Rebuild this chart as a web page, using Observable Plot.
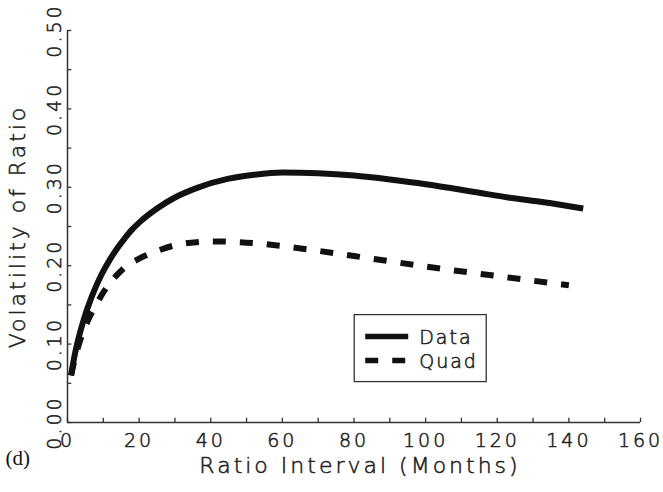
<!DOCTYPE html>
<html>
<head>
<meta charset="utf-8">
<script src="https://cdn.jsdelivr.net/npm/d3@7"></script>
<script src="https://cdn.jsdelivr.net/npm/@observablehq/plot@0.6"></script>
<style>
  html, body { margin: 0; padding: 0; background: #fff; }
  #chart svg { display: block; }
</style>
</head>
<body>
<div id="chart"></div>
<script>
// Volatility of the ratio against the ratio interval (months)
const dataMonths = [1, 2, 3, 4, 5, 6, 7, 8, 9, 10, 12, 14, 16, 18, 20, 25, 30, 36, 45, 52, 60, 70, 80, 90, 100, 107, 115, 123, 133, 144];
const dataVol    = [0.060, 0.086, 0.106, 0.123, 0.138, 0.151, 0.163, 0.174, 0.184, 0.193, 0.209, 0.223, 0.235, 0.246, 0.255, 0.273, 0.287, 0.299, 0.311, 0.316, 0.319, 0.318, 0.315, 0.310, 0.304, 0.299, 0.293, 0.287, 0.281, 0.273];

const quadMonths = [1, 2, 3, 4, 6, 8, 10, 13, 16, 20, 24, 30, 36, 42, 48, 54, 60, 70, 85, 100, 108, 123, 140];
const quadVol    = [0.060, 0.080, 0.097, 0.111, 0.133, 0.150, 0.166, 0.184, 0.198, 0.209, 0.217, 0.226, 0.230, 0.231, 0.230, 0.228, 0.225, 0.219, 0.209, 0.199, 0.194, 0.185, 0.175];

const xTickValues = [0, 10, 20, 30, 40, 50, 60, 70, 80, 90, 100, 110, 120, 130, 140, 150, 160];
const xTickLabels = [0, 20, 40, 60, 80, 100, 120, 140, 160];
const yTickValues = [0, 0.05, 0.10, 0.15, 0.20, 0.25, 0.30, 0.35, 0.40, 0.45, 0.50];
const yTickLabels = [0, 0.10, 0.20, 0.30, 0.40, 0.50];

const seriesNames = ["Data", "Quad"];
const xTitle = "Ratio Interval (Months)";
const yTitle = "Volatility of Ratio";
const panelTag = "(d)";

const dataRows = dataMonths.map((m, i) => ({month: m, vol: dataVol[i]}));
const quadRows = quadMonths.map((m, i) => ({month: m, vol: quadVol[i]}));

const font = "'DejaVu Sans', sans-serif";
const ink = "#111";
const axisInk = "#333";
const textInk = "#222";

// Legend box drawn against the chart's scales
function legend(index, scales) {
  const g = d3.create("svg:g");
  const x0 = scales.x(80.2), y0 = scales.y(0.137);
  const w = 132, h = 67;
  g.append("rect")
    .attr("x", x0).attr("y", y0).attr("width", w).attr("height", h)
    .attr("fill", "#fff").attr("stroke", axisInk).attr("stroke-width", 1.3);
  const styles = [null, "13,14"];
  seriesNames.forEach((name, i) => {
    const cy = y0 + 22 + i * 24;
    g.append("line")
      .attr("x1", x0 + 11).attr("x2", x0 + 54)
      .attr("y1", cy).attr("y2", cy)
      .attr("stroke", ink).attr("stroke-width", 5.5)
      .attr("stroke-dasharray", styles[i]);
    g.append("text")
      .attr("x", x0 + 65).attr("y", cy + 7)
      .attr("text-anchor", "start")
      .attr("font-family", font).attr("font-size", 19)
      .attr("font-weight", 300)
      .attr("letter-spacing", 2)
      .attr("fill", textInk)
      .attr("stroke", textInk).attr("stroke-width", 0.55)
      .text(name);
  });
  return g.node();
}

const labelStyle = {fontWeight: 300, fill: textInk, stroke: textInk, strokeWidth: 0.55};

const chart = Plot.plot({
  width: 663,
  height: 492,
  marginLeft: 67,
  marginRight: 23,
  marginTop: 30,
  marginBottom: 70,
  x: {domain: [0, 160], axis: null},
  y: {domain: [0, 0.5], axis: null},
  style: {fontFamily: font, background: "#fff"},
  marks: [
    // axis lines
    Plot.ruleY([0], {stroke: axisInk, strokeWidth: 1.5}),
    Plot.ruleX([0], {stroke: axisInk, strokeWidth: 1.5}),
    // inward tick marks
    Plot.ruleX(xTickValues, {x: d => d, y1: 0, y2: 0.0055, stroke: axisInk, strokeWidth: 1.3}),
    Plot.ruleY(yTickValues, {y: d => d, x1: 0, x2: 1.2, stroke: axisInk, strokeWidth: 1.3}),
    // tick labels
    Plot.text(xTickLabels, {
      x: d => d, y: 0, dy: 18, text: d => String(d),
      fontSize: 19, lineAnchor: "middle", ...labelStyle
    }),
    Plot.text(yTickLabels, {
      x: 0, y: d => d, dx: -13, rotate: -90, text: d => d.toFixed(2),
      fontSize: 19, textAnchor: "middle", ...labelStyle
    }),
    // axis titles
    Plot.text([xTitle], {
      frameAnchor: "bottom", dx: 6, dy: 50, text: d => d, textAnchor: "middle",
      fontSize: 22, ...labelStyle
    }),
    Plot.text([yTitle], {
      frameAnchor: "left", dx: -50, rotate: -90, text: d => d, textAnchor: "middle",
      fontSize: 22, ...labelStyle
    }),
    Plot.text([panelTag], {
      frameAnchor: "bottom-left", dx: -62, dy: 42, text: d => d, textAnchor: "start",
      fontFamily: "'Liberation Serif', 'Times New Roman', serif", fontSize: 21, fill: ink
    }),
    // series
    Plot.line(quadRows, {x: "month", y: "vol", stroke: ink, strokeWidth: 6, strokeDasharray: "13,14", curve: "monotone-x", strokeLinecap: "butt"}),
    Plot.line(dataRows, {x: "month", y: "vol", stroke: ink, strokeWidth: 6, curve: "monotone-x", strokeLinecap: "butt"}),
    legend
  ]
});

// wide glyph spacing on tick labels and titles
d3.select(chart).selectAll("g[aria-label='text'] text").attr("letter-spacing", 3);
d3.select(chart).selectAll("g[aria-label='text'] text")
  .filter(function() { return this.textContent === panelTag; })
  .attr("letter-spacing", null);

document.getElementById("chart").appendChild(chart);
</script>
</body>
</html>
